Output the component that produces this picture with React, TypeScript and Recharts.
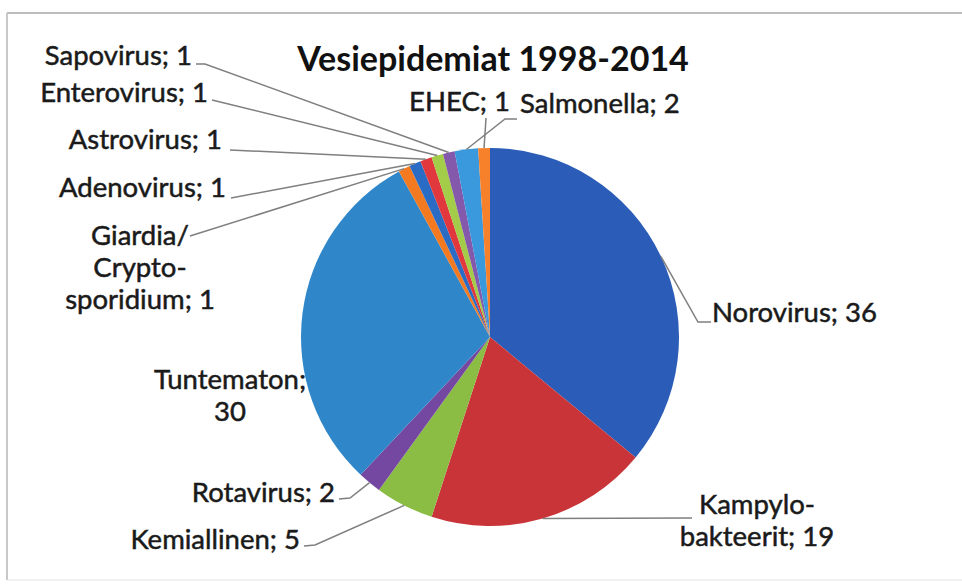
import { Cell, Pie, PieChart } from "recharts";

const names = [
	"Norovirus",
	"Kampylobakteerit",
	"Kemiallinen",
	"Rotavirus",
	"Tuntematon",
	"Giardia/Cryptosporidium",
	"Adenovirus",
	"Astrovirus",
	"Enterovirus",
	"Sapovirus",
	"Salmonella",
	"EHEC",
];
const values = [36, 19, 5, 2, 30, 1, 1, 1, 1, 1, 2, 1];
const colors = [
	"#2a5cb8",
	"#c93438",
	"#8bbd45",
	"#7448a0",
	"#2f86c8",
	"#f47a22",
	"#2a6cc4",
	"#e0383c",
	"#a3cc48",
	"#8458aa",
	"#3a98dc",
	"#f7812a",
];

const chartData = names.map((name, i) => ({ name, value: values[i] }));

// label placement (Excel-style, manually placed)
interface LabelLayout {
	lines: string[];
	x: number;
	y: number;
	anchor: "start" | "middle" | "end";
	line?: [number, number][];
}

const labelLayout: Record<string, LabelLayout> = {
	Norovirus: {
		lines: ["Norovirus; 36"],
		x: 712,
		y: 322,
		anchor: "start",
		line: [
			[698, 322],
			[711, 322],
		],
	},
	Kampylobakteerit: {
		lines: ["Kampylo-", "bakteerit; 19"],
		x: 757,
		y: 514,
		anchor: "middle",
		line: [[692, 518]],
	},
	Kemiallinen: {
		lines: ["Kemiallinen; 5"],
		x: 300,
		y: 549,
		anchor: "end",
		line: [
			[315, 545],
			[304, 546],
		],
	},
	Rotavirus: {
		lines: ["Rotavirus; 2"],
		x: 335,
		y: 502,
		anchor: "end",
		line: [
			[350, 498],
			[339, 499],
		],
	},
	Tuntematon: {
		lines: ["Tuntematon;", "30"],
		x: 230,
		y: 389,
		anchor: "middle",
	},
	"Giardia/Cryptosporidium": {
		lines: ["Giardia/", "Crypto-", "sporidium; 1"],
		x: 140,
		y: 245,
		anchor: "middle",
		line: [[190, 236]],
	},
	Adenovirus: {
		lines: ["Adenovirus; 1"],
		x: 226,
		y: 197,
		anchor: "end",
		line: [[231, 198]],
	},
	Astrovirus: {
		lines: ["Astrovirus; 1"],
		x: 222,
		y: 149,
		anchor: "end",
		line: [[230, 150]],
	},
	Enterovirus: {
		lines: ["Enterovirus; 1"],
		x: 208,
		y: 102,
		anchor: "end",
		line: [[212, 100]],
	},
	Sapovirus: {
		lines: ["Sapovirus; 1"],
		x: 192,
		y: 65,
		anchor: "end",
		line: [
			[205, 64],
			[196, 64],
		],
	},
	Salmonella: {
		lines: ["Salmonella; 2"],
		x: 520,
		y: 113,
		anchor: "start",
		line: [
			[505, 119],
			[517, 119],
		],
	},
	EHEC: {
		lines: ["EHEC; 1"],
		x: 510,
		y: 111,
		anchor: "end",
		line: [[486, 118]],
	},
};

const FONT = "Lato, 'Open Sans', sans-serif";
const RADIAN = Math.PI / 180;

function renderLabel(props: any) {
	const { cx, cy, midAngle, outerRadius } = props;
	const name = props.payload?.name ?? props.name;
	const lay = labelLayout[name];
	if (!lay) return null;
	const px = cx + outerRadius * Math.cos(-midAngle * RADIAN);
	const py = cy + outerRadius * Math.sin(-midAngle * RADIAN);
	const pts = lay.line ? [[px, py], ...lay.line] : null;
	return (
		<g key={`lbl-${name}`}>
			{pts && (
				<polyline
					points={pts.map((p) => p.join(",")).join(" ")}
					fill="none"
					stroke="#7f7f7f"
					strokeWidth={1.5}
				/>
			)}
			<text
				x={lay.x}
				y={lay.y}
				textAnchor={lay.anchor}
				fontFamily={FONT}
				fontSize={27.5}
				fill="#1a1a1a"
				stroke="#1a1a1a"
				strokeWidth={0.5}
			>
				{lay.lines.map((t, i) => (
					<tspan key={t} x={lay.x} dy={i === 0 ? 0 : 32}>
						{t}
					</tspan>
				))}
			</text>
		</g>
	);
}

export default function App() {
	return (
		<div
			style={{
				position: "absolute",
				left: 0,
				top: 0,
				width: 962,
				height: 588,
				background: "#fff",
			}}
		>
			<PieChart
				width={962}
				height={588}
				margin={{ top: 0, right: 0, bottom: 0, left: 0 }}
			>
				{/* frame */}
				<line x1={7} y1={13} x2={962} y2={13} stroke="#bdbdbd" strokeWidth={2} />
				<line x1={7} y1={13} x2={7} y2={580} stroke="#c8c8c8" strokeWidth={2} />
				<line x1={7} y1={580} x2={962} y2={580} stroke="#e6e6e6" strokeWidth={1} />
				<text
					x={493}
					y={71}
					textAnchor="middle"
					fontFamily={FONT}
					fontWeight="bold"
					fontSize={34}
					fill="#111"
				>
					Vesiepidemiat 1998-2014
				</text>
				<Pie
					data={chartData}
					dataKey="value"
					nameKey="name"
					cx={490}
					cy={337}
					outerRadius={189}
					startAngle={90}
					endAngle={-270}
					stroke="none"
					label={renderLabel}
					labelLine={false}
					isAnimationActive={false}
				>
					{chartData.map((d, i) => (
						<Cell key={d.name} fill={colors[i]} />
					))}
				</Pie>
			</PieChart>
		</div>
	);
}
